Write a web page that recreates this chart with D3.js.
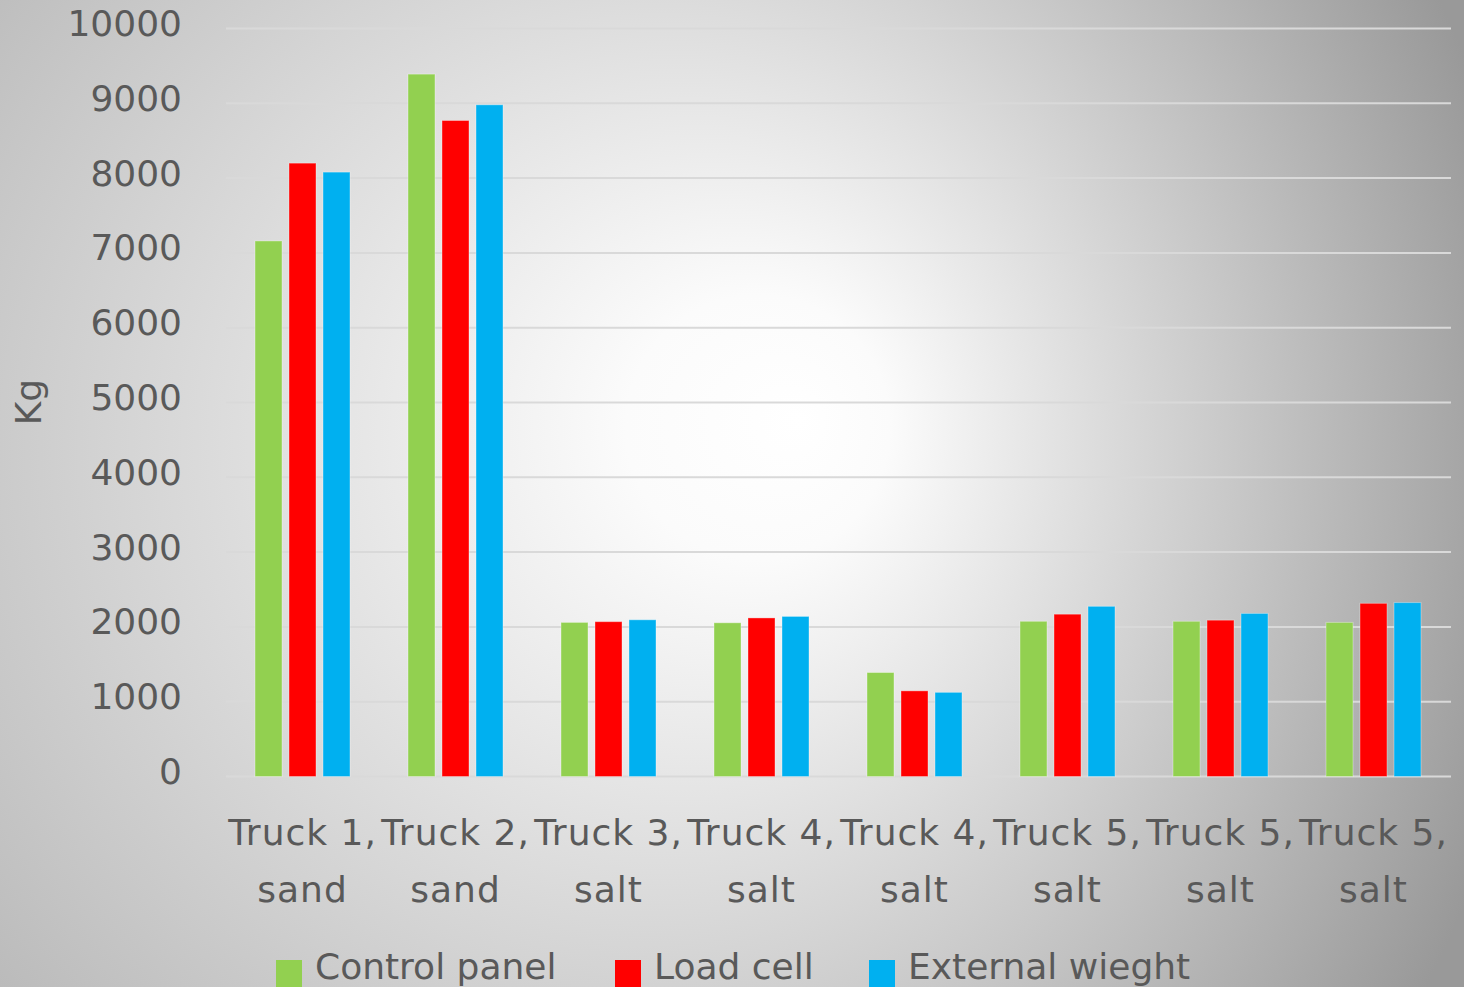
<!DOCTYPE html>
<html>
<head>
<meta charset="utf-8">
<script src="https://cdn.jsdelivr.net/npm/d3@7/dist/d3.min.js"></script>
<style>
html,body{margin:0;padding:0;background:#fff;}
svg{display:block;}
text{font-family:"DejaVu Sans",sans-serif;fill:#595959;}
</style>
</head>
<body>
<svg id="chart" width="1464" height="987"></svg>
<script>
const categories = ["Truck 1, sand","Truck 2, sand","Truck 3, salt","Truck 4, salt","Truck 4, salt","Truck 5, salt","Truck 5, salt","Truck 5, salt"];
const seriesNames = ["Control panel","Load cell","External wieght"];
const controlPanel = [7160, 9390, 2060, 2055, 1390, 2075, 2075, 2060];
const loadCell     = [8200, 8770, 2070, 2120, 1145, 2170, 2090, 2315];
const externalW    = [8080, 8980, 2095, 2140, 1125, 2275, 2180, 2325];
const yTicks = [0,1000,2000,3000,4000,5000,6000,7000,8000,9000,10000];
const colors = ["#92D050","#FF0000","#00B0F0"];
const yLabel = "Kg";

const W = 1464, H = 987;
const svg = d3.select("#chart");

// background gradient
const defs = svg.append("defs");
const rg = defs.append("radialGradient").attr("id","bg")
  .attr("gradientUnits","userSpaceOnUse")
  .attr("cx",450).attr("cy",480).attr("r",1100)
  .attr("fx",800).attr("fy",420);
rg.append("stop").attr("offset","0%").attr("stop-color","#ffffff");
rg.append("stop").attr("offset","12%").attr("stop-color","#fbfbfb");
rg.append("stop").attr("offset","100%").attr("stop-color","#999999");
svg.append("rect").attr("width",W).attr("height",H).attr("fill","url(#bg)");

const x0 = d3.scaleBand().domain(d3.range(categories.length)).range([226,1450]).paddingInner(0).paddingOuter(0);
const x1 = d3.scaleBand().domain(seriesNames).range([29, 124]).paddingInner(0.206).paddingOuter(0);
const y = d3.scaleLinear().domain([0,10000]).range([776.5,28.5]);

// gridlines
svg.append("g").selectAll("line").data(yTicks).join("line")
  .attr("x1",226).attr("x2",1451)
  .attr("y1",d=>y(d)).attr("y2",d=>y(d))
  .attr("stroke","#d9d9d9").attr("stroke-width",2);

// y tick labels
svg.append("g").selectAll("text").data(yTicks).join("text")
  .attr("x",182).attr("y",d=>y(d)-5)
  .attr("text-anchor","end").attr("dominant-baseline","central")
  .attr("font-size",36).text(d=>d);

// y axis title
svg.append("text").attr("transform","translate(41,402) rotate(-90)")
  .attr("text-anchor","middle").attr("font-size",36).text(yLabel);

// bars
const seriesVals = [controlPanel, loadCell, externalW];
const data = [];
categories.forEach((c,i)=>seriesNames.forEach((s,j)=>data.push({i, s, j, v: seriesVals[j][i]})));
svg.append("g").selectAll("rect").data(data).join("rect")
  .attr("x",d=>x0(d.i)+x1(d.s))
  .attr("width",x1.bandwidth())
  .attr("y",d=>y(d.v))
  .attr("height",d=>y(0)-y(d.v))
  .attr("fill",d=>colors[d.j])
  .attr("stroke","rgba(255,255,255,0.35)").attr("stroke-width",1);

// x labels
const xl = svg.append("g").selectAll("text").data(categories).join("text")
  .attr("text-anchor","middle").attr("font-size",36).attr("letter-spacing",1);
xl.each(function(c,i){
  const parts = c.split(", ");
  const t = d3.select(this);
  const cx = x0(i)+x0.bandwidth()/2;
  t.append("tspan").attr("x",cx).attr("y",845).text(parts[0]+",");
  t.append("tspan").attr("x",cx).attr("y",902).text(parts[1]);
});

// legend
const legX = [276, 615, 869];
const lg = svg.append("g").selectAll("g").data(seriesNames).join("g");
lg.append("rect").attr("x",(d,i)=>legX[i]).attr("y",960).attr("width",26).attr("height",27)
  .attr("fill",(d,i)=>colors[i]);
lg.append("text").attr("x",(d,i)=>legX[i]+39).attr("y",979).attr("font-size",36).text(d=>d);
</script>
</body>
</html>
